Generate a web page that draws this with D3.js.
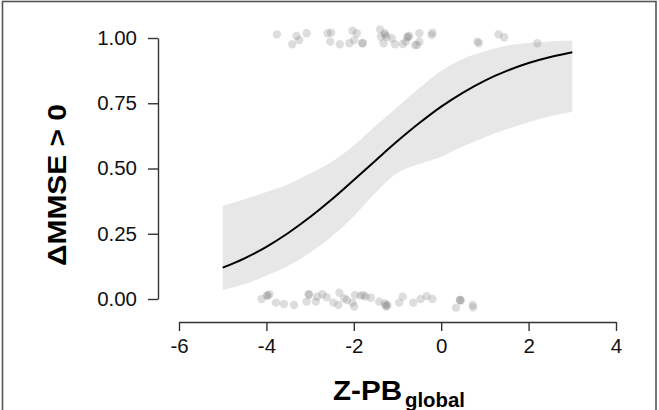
<!DOCTYPE html>
<html>
<head>
<meta charset="utf-8">
<script src="https://cdn.jsdelivr.net/npm/d3@7"></script>
<style>
  html, body { margin: 0; padding: 0; background: #fff; }
  svg { display: block; font-family: "Liberation Sans", Arial, Helvetica, sans-serif; }
</style>
</head>
<body>
<svg id="chart" width="659" height="410"></svg>
<script>
// ---- data ----
const xTicks = [-6, -4, -2, 0, 2, 4];
const yTicks = [0, 0.25, 0.5, 0.75, 1];

const fitX     = [-5, -4.5, -4, -3.5, -3, -2.5, -2, -1.5, -1, -0.5, 0, 0.5, 1, 1.5, 2, 2.5, 3];
const fitP     = [0.120, 0.156, 0.200, 0.253, 0.314, 0.382, 0.456, 0.531, 0.605, 0.674, 0.737, 0.791, 0.837, 0.874, 0.904, 0.927, 0.945];
const lowerP   = [0.034, 0.057, 0.089, 0.127, 0.177, 0.240, 0.317, 0.408, 0.484, 0.517, 0.545, 0.585, 0.620, 0.650, 0.677, 0.700, 0.717];
const upperP   = [0.356, 0.382, 0.410, 0.440, 0.481, 0.526, 0.588, 0.664, 0.736, 0.808, 0.875, 0.920, 0.949, 0.970, 0.981, 0.987, 0.990];

// jittered observations, outcome = 1
const topX = [-3.76, -3.31, -3.08, -3.41, -3.25, -2.60, -2.52, -2.54, -2.32, -2.10, -2.03, -1.93, -1.99, -1.80, -1.80,
              -1.40, -1.38, -1.29, -1.29, -1.25, -1.32, -1.13, -1.06, -0.88, -0.77, -0.77, -0.73, -0.81, -0.60, -0.55,
              -0.50, -0.50, -0.22, -0.20, 0.83, 0.86, 1.31, 1.44, 2.20];
const topY = [1.014, 1.008, 1.018, 0.976, 0.992, 1.018, 1.020, 0.986, 0.976, 0.980, 1.028, 1.018, 0.992, 0.980, 0.980,
              1.033, 1.005, 1.018, 1.012, 1.005, 0.980, 0.999, 0.976, 0.977, 1.005, 1.003, 1.008, 0.986, 0.973, 0.973,
              0.986, 1.018, 1.011, 1.020, 0.986, 0.980, 1.014, 1.003, 0.980];
// jittered observations, outcome = 0
const botX = [-4.11, -3.98, -3.98, -3.93, -3.78, -3.60, -3.37, -3.08, -3.03, -3.03, -2.87, -2.84, -2.72, -2.62, -2.47,
              -2.35, -2.33, -2.22, -2.16, -2.03, -1.99, -1.97, -1.84, -1.78, -1.73, -1.61, -1.42, -1.29, -1.26, -1.23,
              -1.26, -0.96, -0.88, -0.64, -0.47, -0.33, -0.20, 0.34, 0.43, 0.43, 0.45, 0.72, 0.73];
const botY = [0.000, 0.014, 0.012, 0.018, -0.014, -0.019, -0.023, -0.010, 0.018, 0.016, -0.010, 0.009, 0.018, 0.007, -0.014,
              -0.023, 0.024, 0.003, -0.004, -0.014, -0.029, 0.015, 0.013, 0.015, 0.009, 0.005, -0.010, -0.017, -0.029, -0.023,
              -0.025, -0.014, 0.009, -0.014, 0.000, 0.011, 0.000, -0.033, -0.004, -0.004, -0.006, -0.023, -0.032];

// ---- drawing ----
const svg = d3.select("#chart");
const x = d3.scaleLinear().domain([-6, 4]).range([179, 616]);
const y = d3.scaleLinear().domain([0, 1]).range([299, 38]);

// frame
svg.append("rect")
  .attr("x", 2.5).attr("y", 1.5).attr("width", 653.5).attr("height", 420)
  .attr("fill", "none").attr("stroke", "#555").attr("stroke-width", 1.6);

const band = fitX.map((v, i) => ({ x: v, lo: lowerP[i], hi: upperP[i], p: fitP[i] }));

svg.append("path")
  .datum(band)
  .attr("fill", "#e7e7e7")
  .attr("d", d3.area().curve(d3.curveCatmullRom)
    .x(d => x(d.x)).y0(d => y(d.lo)).y1(d => y(d.hi)));

svg.append("path")
  .datum(band)
  .attr("fill", "none").attr("stroke", "#000").attr("stroke-width", 2)
  .attr("d", d3.line().curve(d3.curveCatmullRom).x(d => x(d.x)).y(d => y(d.p)));

const pts = topX.map((v, i) => ({ x: v, y: topY[i] }))
  .concat(botX.map((v, i) => ({ x: v, y: botY[i] })));
svg.append("g").selectAll("circle").data(pts).join("circle")
  .attr("cx", d => x(d.x)).attr("cy", d => y(d.y)).attr("r", 4.2)
  .attr("fill", "#7a7a7a").attr("fill-opacity", 0.26);

// axes
const axisColor = "#333";
const gx = svg.append("g").attr("transform", "translate(0,322)")
  .call(d3.axisBottom(x).tickValues(xTicks).tickSize(9).tickSizeOuter(0).tickPadding(8)
    .tickFormat(d => String(d)));
const gy = svg.append("g").attr("transform", "translate(158,0)")
  .call(d3.axisLeft(y).tickValues(yTicks).tickSize(10).tickSizeOuter(0).tickPadding(11)
    .tickFormat(d3.format(".2f")));

[gx, gy].forEach(g => {
  g.select(".domain").attr("stroke", axisColor).attr("stroke-width", 1.4);
  g.selectAll(".tick line").attr("stroke", axisColor).attr("stroke-width", 1.4);
  g.selectAll(".tick text").attr("fill", "#111")
    .style("font-size", "19.5px").style("font-family", '"Liberation Sans", Arial, sans-serif');
});

function widen(sel, f) {
  sel.each(function () {
    const w = this.getComputedTextLength();
    d3.select(this).attr("textLength", w * f).attr("lengthAdjust", "spacingAndGlyphs");
  });
}
widen(gx.selectAll(".tick text"), 1.05);
widen(gy.selectAll(".tick text"), 1.05);

// axis titles
const yt = svg.append("text")
  .attr("transform", "translate(65.5,185) rotate(-90)")
  .attr("text-anchor", "middle")
  .attr("fill", "#000")
  .style("font-weight", "bold").style("font-size", "25px")
  .text("ΔMMSE > 0");
widen(yt, 162 / yt.node().getComputedTextLength());

const xt = svg.append("text")
  .attr("x", 333).attr("y", 399.5)
  .attr("fill", "#000")
  .style("font-weight", "bold").style("font-size", "27.5px")
  .text("Z-PB");
widen(xt, 69 / xt.node().getComputedTextLength());

const xs = svg.append("text")
  .attr("x", 405).attr("y", 406.5)
  .attr("fill", "#000")
  .style("font-weight", "bold").style("font-size", "20px")
  .text("global");
widen(xs, 60 / xs.node().getComputedTextLength());
</script>
</body>
</html>
